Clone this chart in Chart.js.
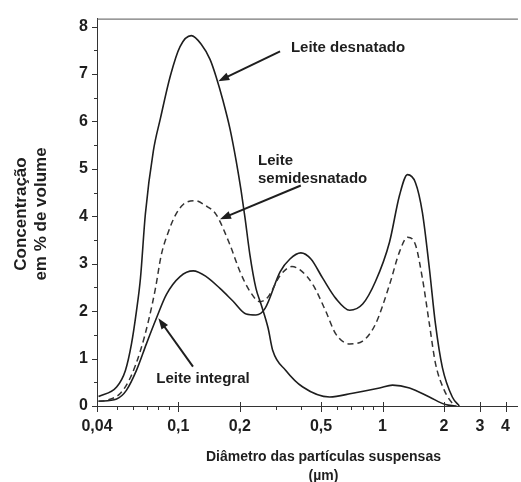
<!DOCTYPE html>
<html>
<head>
<meta charset="utf-8">
<script src="https://cdn.jsdelivr.net/npm/chart.js@4/dist/chart.umd.min.js"></script>
<style>
  html, body { margin: 0; padding: 0; background: #fff; }
</style>
</head>
<body>
<canvas id="chart" width="521" height="482"></canvas>
<script>
// particle size distribution of three kinds of milk (diameter in µm, % of volume)
const desnatadoX = [0.0407, 0.0499, 0.0551, 0.059, 0.0624, 0.0653, 0.069, 0.0755, 0.0817, 0.0914, 0.102, 0.1157, 0.1295, 0.143, 0.153, 0.166, 0.179, 0.192, 0.203, 0.212, 0.224, 0.240, 0.254, 0.275, 0.290, 0.336, 0.407, 0.551, 0.714, 0.967, 1.119, 1.355, 1.695, 2.03, 2.27];
const desnatadoY = [0.2, 0.4, 0.75, 1.31, 2.0, 2.7, 4.05, 5.38, 6.06, 6.96, 7.58, 7.81, 7.63, 7.31, 6.95, 6.42, 5.85, 5.17, 4.54, 3.98, 3.2, 2.48, 2.15, 1.65, 1.17, 0.75, 0.4, 0.19, 0.27, 0.38, 0.44, 0.38, 0.19, 0.03, 0];

const semiX = [0.0407, 0.0446, 0.0521, 0.0583, 0.0653, 0.0714, 0.0773, 0.0826, 0.0894, 0.0967, 0.1057, 0.121, 0.1355, 0.153, 0.179, 0.2006, 0.224, 0.251, 0.275, 0.315, 0.36, 0.40, 0.456, 0.527, 0.59, 0.69, 0.799, 0.924, 1.082, 1.21, 1.324, 1.449, 1.567, 1.695, 1.815, 2.006, 2.195, 2.3];
const semiY = [0.1, 0.12, 0.27, 0.6, 1.17, 1.79, 2.48, 3.19, 3.67, 4.02, 4.25, 4.33, 4.23, 4.04, 3.4, 2.83, 2.42, 2.2, 2.3, 2.75, 2.94, 2.85, 2.56, 2.0, 1.52, 1.31, 1.37, 1.73, 2.56, 3.25, 3.56, 3.4, 2.69, 1.73, 0.9, 0.33, 0.06, 0];

const integralX = [0.0407, 0.0499, 0.0557, 0.0624, 0.0698, 0.0781, 0.0874, 0.102, 0.1183, 0.137, 0.160, 0.1855, 0.215, 0.240, 0.266, 0.315, 0.352, 0.398, 0.446, 0.51, 0.59, 0.69, 0.799, 0.924, 1.082, 1.21, 1.324, 1.449, 1.567, 1.695, 1.815, 1.963, 2.195, 2.375];
const integralY = [0.1, 0.15, 0.33, 0.75, 1.31, 1.85, 2.35, 2.73, 2.85, 2.73, 2.48, 2.21, 1.94, 1.92, 2.06, 2.83, 3.1, 3.23, 3.1, 2.69, 2.27, 2.02, 2.15, 2.63, 3.46, 4.44, 4.88, 4.71, 4.08, 2.9, 1.73, 0.81, 0.19, 0];

// axis ticks
const xTickValues = [0.04, 0.1, 0.2, 0.5, 1, 2, 3, 4];
const xTickLabels = ['0,04', '0,1', '0,2', '0,5', '1', '2', '3', '4'];
const xMinorTicks = [0.05, 0.06, 0.07, 0.08, 0.09, 0.3, 0.4, 0.6, 0.7, 0.8, 0.9];
const yTickValues = [0, 1, 2, 3, 4, 5, 6, 7, 8];
const yMinorTicks = [0.5, 1.5, 2.5, 3.5, 4.5, 5.5, 6.5, 7.5];

// callouts: text position, arrow tail and arrow tip, all in data units
const calloutText = [['Leite desnatado'], ['Leite', 'semidesnatado'], ['Leite integral']];
const calloutAt = [[0.356, 7.55], [0.2456, 5.17], [0.0781, 0.58]];
const arrowFrom = [[0.315, 7.48], [0.398, 4.65], [0.118, 0.83]];
const arrowTo = [[0.157, 6.85], [0.160, 3.94], [0.0799, 1.85]];

const INK = '#1e1e1e';
const FONT = '"Liberation Sans", Arial, sans-serif';

function points(xs, ys) {
  return xs.map((x, i) => ({ x: x, y: ys[i] }));
}

const extras = {
  id: 'extras',
  afterDraw(chart) {
    const ctx = chart.ctx;
    const area = chart.chartArea;
    const xs = chart.scales.x;
    const ys = chart.scales.y;
    ctx.save();

    // top frame line
    ctx.strokeStyle = '#555';
    ctx.lineWidth = 1;
    ctx.beginPath();
    ctx.moveTo(area.left, area.top + 0.5);
    ctx.lineTo(area.right, area.top + 0.5);
    ctx.stroke();

    // tick marks
    ctx.strokeStyle = '#333';
    ctx.beginPath();
    yTickValues.forEach(v => {
      const py = Math.round(ys.getPixelForValue(v)) + 0.5;
      ctx.moveTo(area.left - 5, py); ctx.lineTo(area.left, py);
    });
    yMinorTicks.forEach(v => {
      const py = Math.round(ys.getPixelForValue(v)) + 0.5;
      ctx.moveTo(area.left - 3, py); ctx.lineTo(area.left, py);
    });
    xTickValues.forEach(v => {
      const px = Math.round(xs.getPixelForValue(v)) + 0.5;
      ctx.moveTo(px, area.bottom - 4); ctx.lineTo(px, area.bottom + 6);
    });
    xMinorTicks.forEach(v => {
      const px = Math.round(xs.getPixelForValue(v)) + 0.5;
      ctx.moveTo(px, area.bottom); ctx.lineTo(px, area.bottom + 4);
    });
    ctx.stroke();

    // callouts with arrows
    ctx.fillStyle = INK;
    ctx.strokeStyle = INK;
    ctx.font = 'bold 15px ' + FONT;
    ctx.textAlign = 'left';
    ctx.textBaseline = 'middle';
    calloutText.forEach((lines, i) => {
      const tx = xs.getPixelForValue(calloutAt[i][0]);
      const ty = ys.getPixelForValue(calloutAt[i][1]);
      lines.forEach((t, k) => ctx.fillText(t, tx, ty + k * 18));

      const x0 = xs.getPixelForValue(arrowFrom[i][0]);
      const y0 = ys.getPixelForValue(arrowFrom[i][1]);
      const x1 = xs.getPixelForValue(arrowTo[i][0]);
      const y1 = ys.getPixelForValue(arrowTo[i][1]);
      const ang = Math.atan2(y1 - y0, x1 - x0);
      ctx.lineWidth = 2;
      ctx.beginPath();
      ctx.moveTo(x0, y0);
      ctx.lineTo(x1 - 8 * Math.cos(ang), y1 - 8 * Math.sin(ang));
      ctx.stroke();
      ctx.beginPath();
      ctx.moveTo(x1, y1);
      ctx.lineTo(x1 - 11 * Math.cos(ang) + 4 * Math.sin(ang), y1 - 11 * Math.sin(ang) - 4 * Math.cos(ang));
      ctx.lineTo(x1 - 11 * Math.cos(ang) - 4 * Math.sin(ang), y1 - 11 * Math.sin(ang) + 4 * Math.cos(ang));
      ctx.closePath();
      ctx.fill();
    });

    // axis titles
    ctx.textAlign = 'center';
    ctx.font = 'bold 14px ' + FONT;
    const cx = (area.left + area.right) / 2 + 16;
    ctx.fillText('Diâmetro das partículas suspensas', cx, 457);
    ctx.fillText('(µm)', cx, 476);

    ctx.font = 'bold 17px ' + FONT;
    ctx.translate(31, 214);
    ctx.rotate(-Math.PI / 2);
    ctx.fillText('Concentração', 0, -10);
    ctx.fillText('em % de volume', 0, 10);
    ctx.restore();
  }
};

new Chart(document.getElementById('chart'), {
  type: 'line',
  data: {
    datasets: [
      { label: 'Leite desnatado', data: points(desnatadoX, desnatadoY), borderColor: INK, borderWidth: 1.6 },
      { label: 'Leite semidesnatado', data: points(semiX, semiY), borderColor: '#333', borderWidth: 1.5, borderDash: [6, 4] },
      { label: 'Leite integral', data: points(integralX, integralY), borderColor: INK, borderWidth: 1.6 }
    ]
  },
  options: {
    responsive: false,
    animation: false,
    events: [],
    layout: { padding: { top: 14, right: 0, left: 0, bottom: 0 } },
    elements: {
      point: { radius: 0 },
      line: { cubicInterpolationMode: 'monotone', fill: false }
    },
    plugins: { legend: { display: false }, tooltip: { enabled: false } },
    scales: {
      x: {
        type: 'logarithmic',
        min: 0.04,
        max: 4.6,
        afterFit(scale) { scale.height = 76; },
        afterBuildTicks(scale) { scale.ticks = xTickValues.map(v => ({ value: v })); },
        grid: { display: false, drawTicks: false },
        border: { display: true, color: '#333', width: 1 },
        ticks: {
          autoSkip: false,
          maxRotation: 0,
          padding: 11,
          color: INK,
          font: { family: FONT, size: 16, weight: 'bold' },
          callback: (v) => xTickLabels[xTickValues.indexOf(v)]
        }
      },
      y: {
        min: 0,
        max: 8.17,
        afterFit(scale) { scale.width = 97; },
        afterBuildTicks(scale) { scale.ticks = yTickValues.map(v => ({ value: v })); },
        grid: { display: false, drawTicks: false },
        border: { display: true, color: '#333', width: 1 },
        ticks: {
          padding: 9,
          color: INK,
          font: { family: FONT, size: 16, weight: 'bold' },
          callback: (v) => String(v)
        }
      }
    }
  },
  plugins: [extras]
});
</script>
</body>
</html>
